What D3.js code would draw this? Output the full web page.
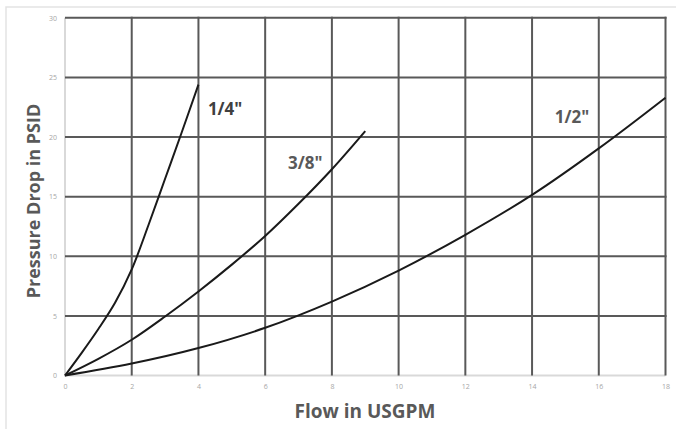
<!DOCTYPE html>
<html>
<head>
<meta charset="utf-8">
<script src="https://cdn.jsdelivr.net/npm/d3@7"></script>
<style>
  html, body { margin: 0; padding: 0; background: #fff; }
  svg { display: block; }
</style>
</head>
<body>
<svg id="chart" width="676" height="429"></svg>
<script>
const xTicks = [0, 2, 4, 6, 8, 10, 12, 14, 16, 18];
const yTicks = [0, 5, 10, 15, 20, 25, 30];

const quarterFlow = [0, 0.5, 1, 1.5, 2, 2.5, 3, 3.5, 4];
const quarterDrop = [0, 1.9, 3.9, 6.1, 8.9, 12.6, 16.5, 20.4, 24.4];

const threeEighthFlow = [0, 1, 2, 3, 4, 5, 6, 7, 8, 9];
const threeEighthDrop = [0, 1.4, 3.0, 4.95, 7.05, 9.3, 11.7, 14.4, 17.3, 20.5];

const halfFlow = [0, 2, 4, 6, 8, 10, 12, 14, 16, 18];
const halfDrop = [0, 1.0, 2.3, 4.0, 6.2, 8.8, 11.8, 15.15, 19.05, 23.3];

const seriesNames = ['1/4"', '3/8"', '1/2"'];
const xTitle = "Flow in USGPM";
const yTitle = "Pressure Drop in PSID";

const svg = d3.select("#chart");
const x = d3.scaleLinear().domain([0, 18]).range([65, 665.5]);
const y = d3.scaleLinear().domain([0, 30]).range([375.5, 17.8]);

// outer frame
svg.append("rect").attr("x", 6).attr("y", 7).attr("width", 700).attr("height", 450)
  .attr("fill", "none").attr("stroke", "#e3e3e3").attr("stroke-width", 1.5);

// axis base lines (light)
svg.append("line").attr("x1", x(0)).attr("x2", x(0)).attr("y1", y(30)).attr("y2", y(0) + 1)
  .attr("stroke", "#d9d9d9").attr("stroke-width", 2);
svg.append("line").attr("x1", x(0)).attr("x2", x(18)).attr("y1", y(0)).attr("y2", y(0))
  .attr("stroke", "#d9d9d9").attr("stroke-width", 2);

// gridlines
const grid = svg.append("g");
grid.selectAll("line.v").data(xTicks.filter(d => d > 0)).join("line")
  .attr("x1", d => x(d)).attr("x2", d => x(d))
  .attr("y1", y(30) - 1).attr("y2", y(0))
  .attr("stroke", "#595959").attr("stroke-width", 2);
grid.selectAll("line.h").data(yTicks.filter(d => d > 0)).join("line")
  .attr("x1", x(0)).attr("x2", x(18) + 1)
  .attr("y1", d => y(d)).attr("y2", d => y(d))
  .attr("stroke", "#595959").attr("stroke-width", 2);

// axes (labels only)
const xAxis = svg.append("g").attr("transform", `translate(0,${y(0)})`)
  .call(d3.axisBottom(x).tickValues(xTicks).tickSize(0).tickPadding(9));
const yAxis = svg.append("g").attr("transform", `translate(${x(0)},0)`)
  .call(d3.axisLeft(y).tickValues(yTicks).tickSize(0).tickPadding(8));
[xAxis, yAxis].forEach(a => {
  a.select(".domain").remove();
  a.selectAll("text").attr("fill", "#a6a6a6").style("font-family", "Open Sans, sans-serif").style("font-size", "7px");
});

// axis titles
svg.append("text").attr("x", 365).attr("y", 418).attr("text-anchor", "middle")
  .attr("fill", "#595959").style("font-family", "Open Sans, sans-serif")
  .style("font-weight", "bold").style("font-size", "19px").text(xTitle);
svg.append("text").attr("transform", "translate(40,201) rotate(-90)").attr("text-anchor", "middle")
  .attr("fill", "#595959").style("font-family", "Open Sans, sans-serif")
  .style("font-weight", "bold").style("font-size", "18px").text(yTitle);

// curves
const line = d3.line().x(d => x(d[0])).y(d => y(d[1])).curve(d3.curveCatmullRom.alpha(0.5));
const series = [
  d3.zip(quarterFlow, quarterDrop),
  d3.zip(threeEighthFlow, threeEighthDrop),
  d3.zip(halfFlow, halfDrop)
];
svg.append("g").selectAll("path").data(series).join("path")
  .attr("d", line).attr("fill", "none").attr("stroke", "#1a1a1a").attr("stroke-width", 2);

// curve labels
const labelPos = [[4.8, 21.85, "#404040"], [7.2, 17.3, "#595959"], [15.2, 21.2, "#595959"]];
svg.append("g").selectAll("text").data(seriesNames).join("text")
  .attr("x", (d, i) => x(labelPos[i][0])).attr("y", (d, i) => y(labelPos[i][1]))
  .attr("text-anchor", "middle").attr("fill", (d, i) => labelPos[i][2])
  .style("font-family", "Open Sans, sans-serif").style("font-weight", "bold").style("font-size", "17px")
  .text(d => d);
</script>
</body>
</html>
